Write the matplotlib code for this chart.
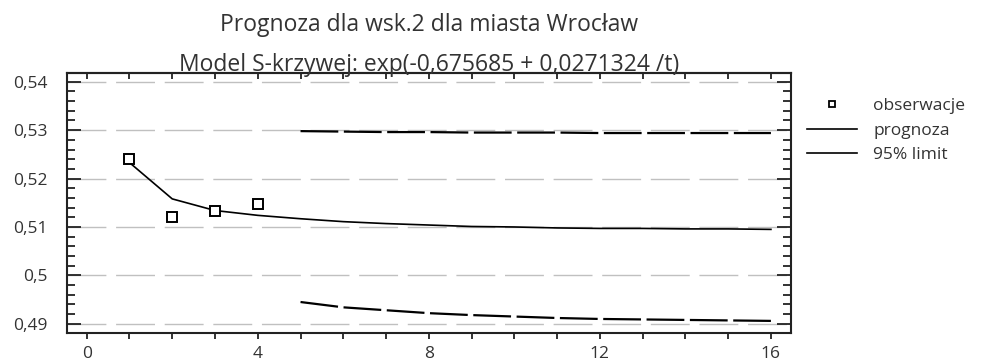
import numpy as np
import matplotlib.pyplot as plt
from matplotlib.lines import Line2D
from matplotlib.ticker import MultipleLocator, FuncFormatter

plt.rcParams['font.family'] = ['Open Sans', 'DejaVu Sans']

# observations (wsk.2, Wroclaw)
obs_t = [1, 2, 3, 4]
obs_y = [0.5240, 0.5120, 0.5133, 0.5147]

# fitted / forecast curve
fc_t = [1, 2, 3, 4, 5, 6, 7, 8, 9, 10, 11, 12, 13, 14, 15, 16]
fc_y = [0.5233, 0.5158, 0.5134, 0.5124, 0.5117, 0.5111, 0.5107, 0.5104,
        0.5101, 0.5100, 0.5098, 0.5097, 0.5097, 0.5096, 0.5096, 0.5095]

# 95% limits (forecast period only)
lim_t = [5, 6, 7, 8, 9, 10, 11, 12, 13, 14, 15, 16]
upper = [0.5298, 0.5297, 0.5296, 0.5296, 0.5295, 0.5295, 0.5295, 0.5294,
         0.5294, 0.5294, 0.5294, 0.5294]
lower = [0.4945, 0.4934, 0.4928, 0.4922, 0.4918, 0.4915, 0.4912, 0.4910,
         0.4909, 0.4908, 0.4907, 0.4906]

title = 'Prognoza dla wsk.2 dla miasta Wrocław'
subtitle = 'Model S-krzywej: exp(-0,675685 + 0,0271324 /t)'
x_ticks = [0, 4, 8, 12, 16]
y_ticks = [0.49, 0.50, 0.51, 0.52, 0.53, 0.54]

fig = plt.figure(figsize=(9.83, 3.6), dpi=100)
ax = fig.add_axes([0.0682, 0.075, 0.7365, 0.7222])

# horizontal grid
for yv in y_ticks:
    ax.axhline(yv, color='#c0c0c0', lw=1.0, dashes=(28, 7), zorder=0)

ax.plot(fc_t, fc_y, color='black', lw=1.2, zorder=3)
ax.plot(lim_t, upper, color='black', lw=1.6, dashes=(17, 2.5), zorder=3)
ax.plot(lim_t, lower, color='black', lw=1.6, dashes=(17, 2.5), zorder=3)
ax.plot(obs_t, obs_y, ls='none', marker='s', ms=6.5, mfc='white',
        mec='black', mew=1.4, zorder=4)

ax.set_xlim(-0.46, 16.47)
ax.set_ylim(0.4881, 0.5418)

ax.set_xticks(x_ticks)
ax.xaxis.set_minor_locator(MultipleLocator(1))
ax.set_yticks(y_ticks)
ax.yaxis.set_minor_locator(MultipleLocator(0.002))
ax.yaxis.set_major_formatter(FuncFormatter(lambda v, p: ('%g' % round(v, 3)).replace('.', ',')))

# bottom ticks point out, top ticks point in
ax.tick_params(axis='x', which='both', direction='out', labelsize=12.5,
               pad=5, colors='#222222', length=4, width=1.3)
top = ax.secondary_xaxis('top')
top.set_xticks(range(0, 17))
top.tick_params(axis='x', direction='in', length=4, width=1.3,
                labeltop=False, colors='#222222')
top.spines['top'].set_linewidth(1.5)
top.spines['top'].set_color('#222222')

ax.tick_params(axis='y', which='both', direction='in', right=True,
               labelsize=12.5, pad=14, colors='#222222')
ax.tick_params(axis='y', which='major', length=10, width=1.3)
ax.tick_params(axis='y', which='minor', length=6, width=1.3)
for lab in ax.get_xticklabels() + ax.get_yticklabels():
    lab.set_color('#333333')

for sp in ax.spines.values():
    sp.set_linewidth(1.5)
    sp.set_color('#222222')

fig.text(0.4365, 0.93, title, ha='center', va='center', fontsize=16.5, color='#333333')
fig.text(0.4365, 0.803, subtitle, ha='center', va='baseline', fontsize=16.5, color='#333333')

handles = [
    Line2D([], [], ls='none', marker='s', ms=5, mfc='white', mec='black', mew=1.3),
    Line2D([], [], color='black', lw=1.2),
    Line2D([], [], color='black', lw=1.2),
]
fig.legend(handles, ['obserwacje', 'prognoza', '95% limit'],
           loc='upper left', bbox_to_anchor=(0.814, 0.748), frameon=False,
           fontsize=12.5, handlelength=2.9, handletextpad=0.9,
           labelspacing=0.5, borderaxespad=0, labelcolor='#333333')

fig.savefig('out.png', dpi=100)
